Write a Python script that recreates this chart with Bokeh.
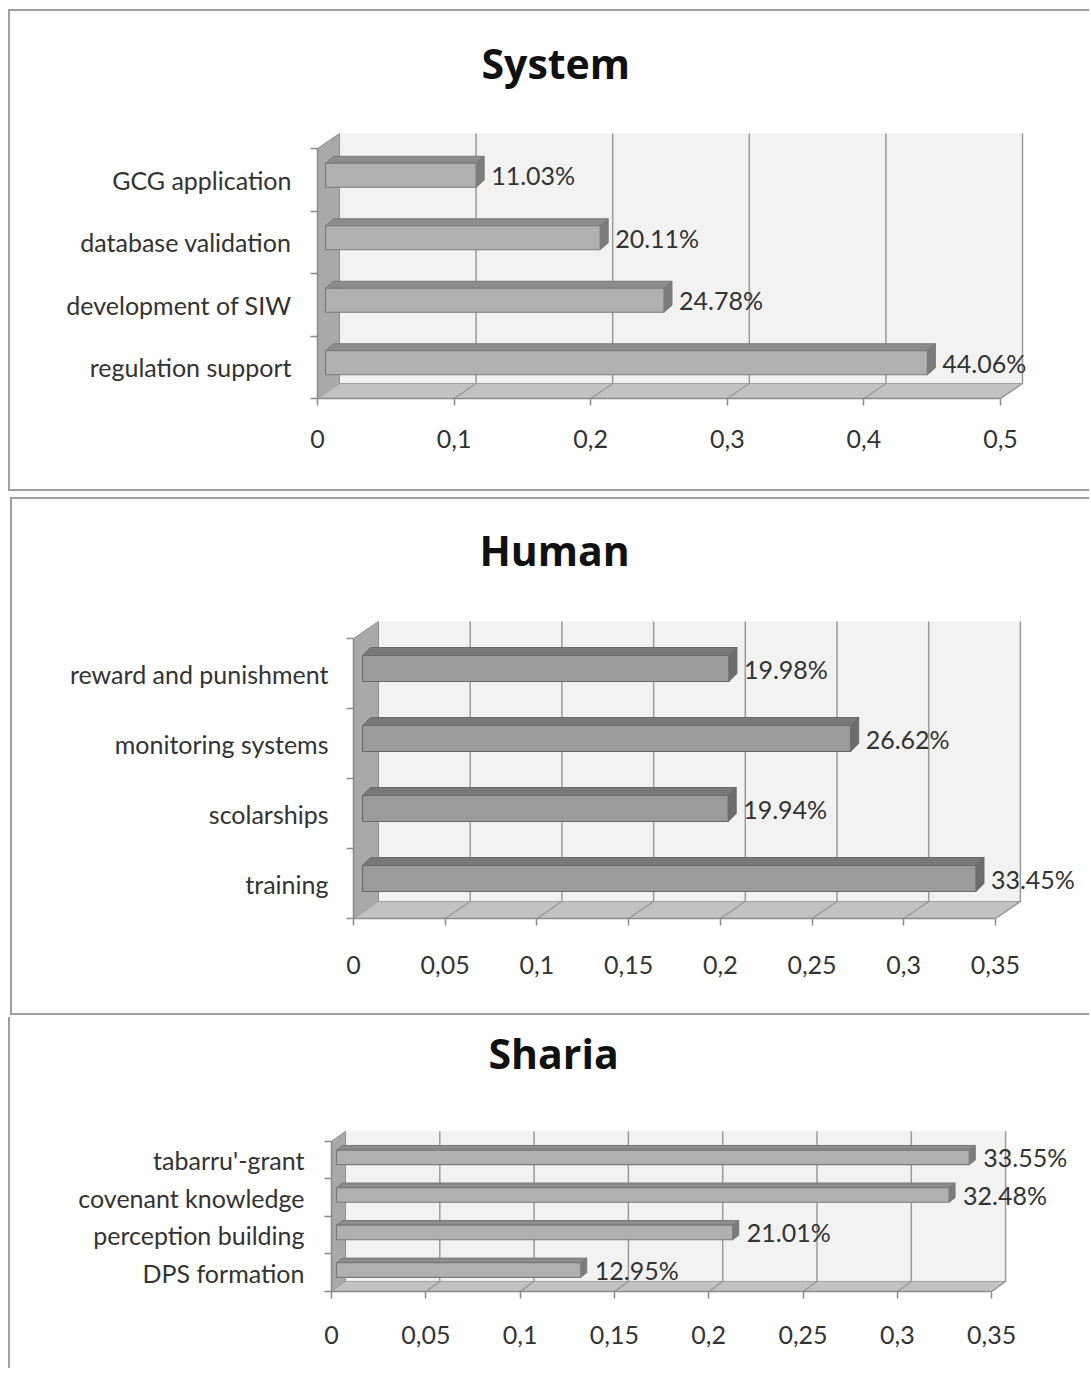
from bokeh.plotting import figure
from bokeh.models import Range1d, FixedTicker, CustomJSTickFormatter
from bokeh.embed import file_html
from bokeh.resources import INLINE
from bokeh.core.properties import value

# ---------------- data ----------------
system_title = "System"
system_categories = ["regulation support", "development of SIW", "database validation", "GCG application"]
system_values = [0.4406, 0.2478, 0.2011, 0.1103]
system_ticks = [0, 0.1, 0.2, 0.3, 0.4, 0.5]

human_title = "Human"
human_categories = ["training", "scolarships", "monitoring systems", "reward and punishment"]
human_values = [0.3345, 0.1994, 0.2662, 0.1998]
human_ticks = [0, 0.05, 0.1, 0.15, 0.2, 0.25, 0.3, 0.35]

sharia_title = "Sharia"
sharia_categories = ["DPS formation", "perception building", "covenant knowledge", "tabarru'-grant"]
sharia_values = [0.1295, 0.2101, 0.3248, 0.3355]
sharia_ticks = [0, 0.05, 0.1, 0.15, 0.2, 0.25, 0.3, 0.35]

FONT = "Lato"
TEXT = "#333333"
AXIS = "#8a8a8a"


def make_panel(title, cats, vals, ticks, c):
    W, H = c["W"], c["H"]
    fl, fr, ft, fb = c["fl"], c["fr"], c["ft"], c["fb"]
    sx, band = c["sx"], c["band"]
    ux = lambda px: px / sx
    uy = lambda px: px / band
    nb = len(cats)
    xmax = ticks[-1]

    p = figure(width=W, height=H,
               x_range=Range1d(0, ux(fr - fl)), y_range=Range1d(0, uy(fb - ft)),
               output_backend="svg", toolbar_location=None,
               min_border_left=fl, min_border_right=W - fr,
               min_border_top=ft, min_border_bottom=H - fb,
               title=title)
    p.outline_line_color = None
    p.xgrid.visible = False
    p.ygrid.visible = False
    p.background_fill_color = "white"
    p.border_fill_color = "white"

    dxu, dyu = ux(c["dx"]), uy(c["dy"])
    # back wall
    p.patch([dxu, xmax + dxu, xmax + dxu, dxu], [dyu, dyu, nb + dyu, nb + dyu],
            fill_color="#f2f2f2", line_color=None)
    # left wall
    p.patch([0, dxu, dxu, 0], [0, dyu, nb + dyu, nb], fill_color="#a9a9a9",
            line_color="#8f8f8f", line_width=1)
    # floor
    p.patch([0, xmax, xmax + dxu, dxu], [0, 0, dyu, dyu], fill_color="#c2c2c2",
            line_color="#a0a0a0", line_width=1)
    gt = ticks[1:]
    p.segment(x0=[t + dxu for t in gt], y0=[dyu] * len(gt),
              x1=[t + dxu for t in gt], y1=[nb + dyu] * len(gt),
              line_color="#9a9a9a", line_width=1.5)
    p.segment(x0=gt, y0=[0] * len(gt), x1=[t + dxu for t in gt], y1=[dyu] * len(gt),
              line_color="#9a9a9a", line_width=1.5)

    # bars
    bxu, byu = ux(c["bx"]), uy(c["by"])
    hu = uy(c["bh"])
    bdxu, bdyu = ux(c["bdx"]), uy(c["bdy"])
    fx, fy, tx, ty, sxs, sys_ = [], [], [], [], [], []
    lx, ly, lt = [], [], []
    for i, v in enumerate(vals):
        yc = i + 0.5 + byu
        b, t = yc - hu / 2, yc + hu / 2
        l, r = bxu, v + bxu
        fx.append([l, r, r, l]); fy.append([b, b, t, t])
        tx.append([l, r, r + bdxu, l + bdxu]); ty.append([t, t, t + bdyu, t + bdyu])
        sxs.append([r, r + bdxu, r + bdxu, r]); sys_.append([b, b + bdyu, t + bdyu, t])
        lx.append(r + bdxu + ux(c["gap"])); ly.append(yc); lt.append(f"{v * 100:.2f}%")
    p.patches(tx, ty, fill_color=c["top"], line_color=c["edge"], line_width=1)
    p.patches(sxs, sys_, fill_color=c["side"], line_color=c["edge"], line_width=1)
    p.patches(fx, fy, fill_color=c["front"], line_color=c["edge"], line_width=1.2)
    p.text(x=lx, y=ly, text=lt, text_font=value(FONT), text_font_size=c["fs"],
           text_color=TEXT, text_baseline="middle", text_align="left")

    # x axis
    xa = p.xaxis[0]
    xa.ticker = FixedTicker(ticks=ticks)
    xa.formatter = CustomJSTickFormatter(code="return tick.toString().replace('.', ',');")
    xa.bounds = (0, xmax)
    xa.axis_line_color = AXIS
    xa.axis_line_width = 1.5
    xa.major_tick_line_color = AXIS
    xa.major_tick_line_width = 1.5
    xa.major_tick_in = 0
    xa.major_tick_out = 7
    xa.minor_tick_line_color = None
    xa.major_label_text_font = FONT
    xa.major_label_text_font_size = c["fs"]
    xa.major_label_text_color = TEXT
    xa.major_label_standoff = c["xstand"]

    # y axis
    ya = p.yaxis[0]
    centers = [i + 0.5 for i in range(nb)]
    ya.ticker = FixedTicker(ticks=centers, minor_ticks=list(range(nb + 1)))
    ya.major_label_overrides = {cc: name for cc, name in zip(centers, cats)}
    ya.bounds = (0, nb)
    ya.axis_line_color = AXIS
    ya.axis_line_width = 1.5
    ya.major_tick_line_color = None
    ya.major_tick_out = 0
    ya.major_tick_in = 0
    ya.minor_tick_line_color = AXIS
    ya.minor_tick_line_width = 1.5
    ya.minor_tick_out = 7
    ya.minor_tick_in = 0
    ya.major_label_text_font = FONT
    ya.major_label_text_font_size = c["fs"]
    ya.major_label_text_color = TEXT
    ya.major_label_standoff = c["ystand"]

    p.title.text_font = "Open Sans"
    p.title.text_font_style = "bold"
    p.title.text_font_size = "41px"
    p.title.text_color = "#111111"
    p.title.align = "left"
    p.title.offset = c["toff"]
    p.title.standoff = 10
    p.styles = c["styles"]
    return p


BORDER = "2px solid #a0a0a0"
light = dict(front="#b0b0b0", top="#8c8c8c", side="#7c7c7c", edge="#7a7a7a")
dark = dict(front="#9b9b9b", top="#787878", side="#6c6c6c", edge="#6a6a6a")

cfg1 = dict(W=1081, H=482, fl=307, fr=1075, ft=84, fb=387, sx=1366, band=62.5,
            dx=22, dy=15, bx=8, by=4.5, bh=24, bdx=8, bdy=7, gap=7, fs="25px",
            xstand=24, ystand=19, toff=164,
            styles={"margin-left": "8px", "margin-top": "9px",
                    "border-left": BORDER, "border-top": BORDER, "border-bottom": BORDER},
            **light)
cfg2 = dict(W=1079, H=518, fl=341, fr=1073, ft=83, fb=419, sx=1834, band=70,
            dx=25, dy=17, bx=9, by=5, bh=26, bdx=8, bdy=8, gap=7, fs="25px",
            xstand=30, ystand=18, toff=126,
            styles={"margin-left": "10px", "margin-top": "6px",
                    "border-left": BORDER, "border-top": BORDER, "border-bottom": BORDER},
            **dark)
cfg3 = dict(W=1081, H=351, fl=321, fr=1075, ft=49, fb=274, sx=1886, band=41,
            dx=14, dy=11, bx=5, by=3, bh=16, bdx=6, bdy=5, gap=8, fs="25px",
            xstand=27, ystand=20, toff=157,
            styles={"margin-left": "8px", "margin-top": "2px",
                    "border-left": BORDER},
            **light)

p1 = make_panel(system_title, system_categories, system_values, system_ticks, cfg1)
p2 = make_panel(human_title, human_categories, human_values, human_ticks, cfg2)
p3 = make_panel(sharia_title, sharia_categories, sharia_values, sharia_ticks, cfg3)

open("out.html", "w").write(file_html([p1, p2, p3], INLINE))
